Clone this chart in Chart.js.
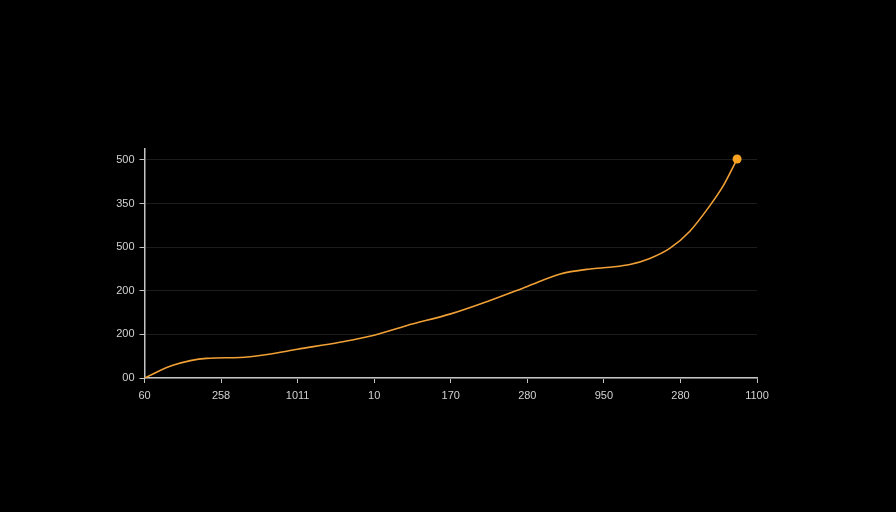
<!DOCTYPE html>
<html>
<head>
<meta charset="utf-8">
<script src="https://cdn.jsdelivr.net/npm/chart.js@4/dist/chart.umd.min.js"></script>
<style>
  html, body { margin: 0; padding: 0; background: #000; }
  #wrap { width: 896px; height: 512px; }
</style>
</head>
<body>
<div id="wrap"><canvas id="chart" width="896" height="512"></canvas></div>
<script>
// tick labels as printed on the picture
const xTickLabels = ['60', '258', '1011', '10', '170', '280', '950', '280', '1100'];
const yTickLabels = ['00', '200', '200', '500', '350', '500'];

// curve (x in tick steps, y in gridline steps)
const xVals = [0, 0.37, 0.81, 1.25, 1.6, 2, 2.55, 3, 3.42, 4, 4.47, 5, 5.42, 5.82, 6.08, 6.34, 6.6, 6.86, 7.12, 7.38, 7.56, 7.74];
const yVals = [0, 0.29, 0.45, 0.47, 0.54, 0.66, 0.82, 0.98, 1.2, 1.47, 1.75, 2.10, 2.38, 2.50, 2.54, 2.60, 2.74, 2.97, 3.36, 3.94, 4.41, 5.02];

const points = xVals.map((x, i) => ({ x: x, y: yVals[i] }));
const lastIdx = points.length - 1;

const axisColor = '#c4c4c4';
const tickFont = { family: 'Liberation Sans, Arial, sans-serif', size: 11 };

new Chart(document.getElementById('chart'), {
    type: 'line',
    data: {
        datasets: [{
            data: points,
            borderColor: '#f0a035',
            borderWidth: 1.6,
            cubicInterpolationMode: 'monotone',
            pointRadius: ctx => ctx.dataIndex === lastIdx ? 4.5 : 0,
            pointBackgroundColor: '#f7a223',
            pointBorderWidth: 0,
            fill: false
        }]
    },
    options: {
        responsive: false,
        animation: false,
        layout: { padding: { top: 149, right: 139, left: 0, bottom: 0 } },
        plugins: { legend: { display: false }, tooltip: { enabled: false } },
        scales: {
            x: {
                type: 'linear',
                min: 0,
                max: 8,
                afterFit: s => { s.height = 512 - 378; },
                border: { color: axisColor, width: 1.5 },
                grid: { drawOnChartArea: false, drawTicks: true, tickLength: 5, tickColor: axisColor },
                ticks: {
                    stepSize: 1,
                    color: '#d2d2d2',
                    font: tickFont,
                    padding: 6,
                    maxRotation: 0,
                    callback: v => xTickLabels[v]
                }
            },
            y: {
                min: 0,
                max: 5.25,
                afterFit: s => { s.width = 144.5; },
                border: { color: axisColor, width: 1.5 },
                grid: { color: '#1c1c1c', lineWidth: 1, tickLength: 5, tickColor: axisColor },
                ticks: {
                    stepSize: 1,
                    includeBounds: false,
                    color: '#d2d2d2',
                    font: tickFont,
                    padding: 5,
                    callback: v => yTickLabels[v]
                }
            }
        }
    }
});
</script>
</body>
</html>
